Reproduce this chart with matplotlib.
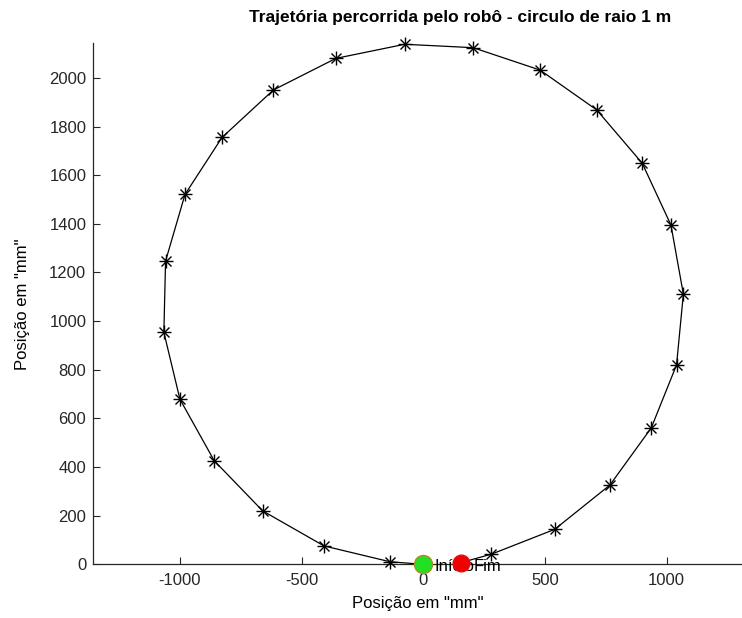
import numpy as np
import matplotlib
matplotlib.use("Agg")
from matplotlib import pyplot as plt

# trajectory points (mm)
x_traj = [0, -137, -408, -660, -859, -1000, -1066, -1059, -979, -827, -616, -359, -76,
          205, 480, 713, 900, 1018, 1069, 1041, 937, 767, 540, 280, 154]
y_traj = [0, 11, 76, 220, 426, 679, 954, 1247, 1521, 1755, 1950, 2080, 2138,
          2124, 2032, 1868, 1649, 1395, 1111, 820, 561, 326, 144, 42, 7]
start_pt = (0, 0)
end_pt = (154, 7)
xticks = [-1000, -500, 0, 500, 1000]
yticks = list(range(0, 2001, 200))

plt.rcParams['font.family'] = ['Liberation Sans', 'DejaVu Sans']
plt.rcParams['axes.unicode_minus'] = False

fig = plt.figure(figsize=(7.42, 6.18), dpi=100)
ax = fig.add_axes([93.3 / 742, 53.6 / 618, 1 - 93.3 / 742, (564.4 - 43.3) / 618])

ax.plot(x_traj, y_traj, color='black', lw=0.9, zorder=2, clip_on=False)
ax.plot(x_traj[1:-1], y_traj[1:-1], ls='none', marker='+', ms=10, mew=1.0, color='black',
        zorder=3, clip_on=False)
ax.plot(x_traj[1:-1], y_traj[1:-1], ls='none', marker='x', ms=6.5, mew=1.0, color='black',
        zorder=3, clip_on=False)

ax.plot(*start_pt, marker='o', ms=13, mfc='#22e022', mec='#b08a2a', mew=1.0, zorder=4, clip_on=False)
ax.text(start_pt[0] + 45, start_pt[1] - 10, 'Início', fontsize=12, ha='left', va='center', zorder=5)
ax.plot(*end_pt, marker='o', ms=12, mfc='#f00000', mec='#e01010', mew=1.0, zorder=6, clip_on=False)
ax.text(end_pt[0] + 55, end_pt[1] - 15, 'Fim', fontsize=12, ha='left', va='center', zorder=7)

ax.set_xlim(-1356, 1310)
ax.set_ylim(0, 2142)
ax.set_xticks(xticks)
ax.set_yticks(yticks)
ax.tick_params(direction='in', length=5, width=0.8, labelsize=12, colors='#262626')
ax.tick_params(axis='x', pad=6)
ax.tick_params(axis='y', pad=5)

ax.spines['top'].set_visible(False)
ax.spines['right'].set_visible(False)
for s in ['left', 'bottom']:
    ax.spines[s].set_color('#262626')
    ax.spines[s].set_linewidth(0.9)

ax.set_xlabel('Posição em "mm"', fontsize=12, labelpad=6)
ax.set_ylabel('Posição em "mm"', fontsize=12, labelpad=14)
fig.text(460 / 742, 1 - 22 / 618, 'Trajetória percorrida pelo robô - circulo de raio 1 m',
         fontsize=12.5, fontweight='bold', ha='center', va='baseline',
         family=['Liberation Sans Narrow', 'Liberation Sans', 'DejaVu Sans'], stretch='condensed')

fig.savefig('out.png', dpi=100)
